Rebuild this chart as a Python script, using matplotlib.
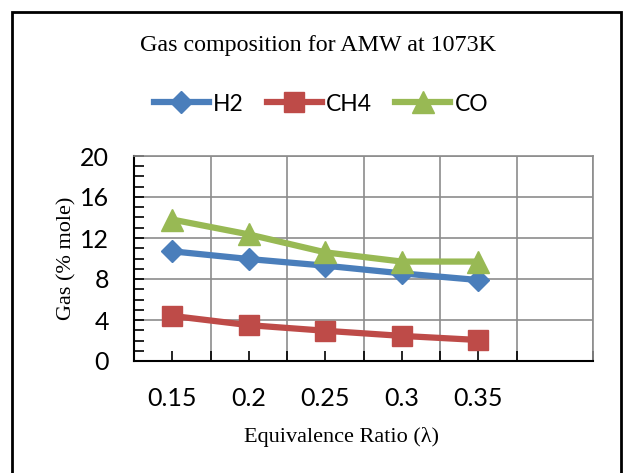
import numpy as np
import matplotlib.pyplot as plt
from matplotlib.patches import Rectangle

ratios = ['0.15', '0.2', '0.25', '0.3', '0.35']
h2 = [10.7, 9.95, 9.3, 8.55, 7.9]
ch4 = [4.4, 3.5, 2.95, 2.45, 2.05]
co = [13.8, 12.35, 10.6, 9.7, 9.7]

fig = plt.figure(figsize=(6.26, 4.73), dpi=100)
ax = fig.add_axes([134/626, 1 - 361/473, (593 - 134)/626, (361 - 156)/473])

# outer frame
fig.patches.append(Rectangle((12/626, -0.05), (621 - 12)/626, 1.05 - 12/473,
                             transform=fig.transFigure, fill=False,
                             edgecolor='black', linewidth=2))

x = np.arange(len(ratios))
ax.plot(x, h2, color='#4A7EBB', lw=4.5, marker='D', ms=11, label='H2')
ax.plot(x, ch4, color='#BE4B48', lw=4.5, marker='s', ms=14, label='CH4')
ax.plot(x, co, color='#98B954', lw=4.5, marker='^', ms=16, label='CO')

ax.set_xlim(-0.5, 5.5)
ax.set_ylim(0, 20)
ax.set_yticks(np.arange(0, 21, 4))
ax.set_yticks(np.arange(0, 21, 1), minor=True)
ax.set_xticks(x)
ax.set_xticklabels(ratios)
ax.set_xticks(np.arange(-0.5, 6, 1), minor=True)

ax.grid(True, which='major', axis='y', color='#8c8c8c', lw=1.2)
ax.grid(True, which='minor', axis='x', color='#8c8c8c', lw=1.2)
ax.set_axisbelow(True)

for s in ['top', 'right']:
    ax.spines[s].set_color('#8c8c8c')
    ax.spines[s].set_linewidth(1.2)
for s in ['left', 'bottom']:
    ax.spines[s].set_color('black')
    ax.spines[s].set_linewidth(1.5)

ax.tick_params(axis='both', which='both', direction='in', color='black', width=1.2, length=7)
ax.tick_params(axis='x', which='major', labelsize=18, pad=19)
ax.tick_params(axis='y', which='major', labelsize=18, pad=18)
for lab in ax.get_xticklabels() + ax.get_yticklabels():
    lab.set_fontfamily('Lato')

ax.set_ylabel('Gas (% mole)', fontfamily='Liberation Serif', fontsize=16)
ax.yaxis.set_label_coords(-0.125, 0.5)
ax.set_xlabel('Equivalence Ratio (λ)', fontfamily='Liberation Serif', fontsize=16)
ax.xaxis.set_label_coords((342 - 134)/459, -0.32)

fig.text(318/626, 1 - 45/473, 'Gas composition for AMW at 1073K',
         fontfamily='Liberation Serif', fontsize=17.3, ha='center', va='center')

leg = fig.legend(loc='center', bbox_to_anchor=(321/626, 1 - 104/473), ncol=3,
                 frameon=False, prop={'family': 'Lato', 'size': 16.5},
                 handlelength=2.4, handletextpad=0.2, columnspacing=1.0)

fig.savefig('out.png', dpi=100)
